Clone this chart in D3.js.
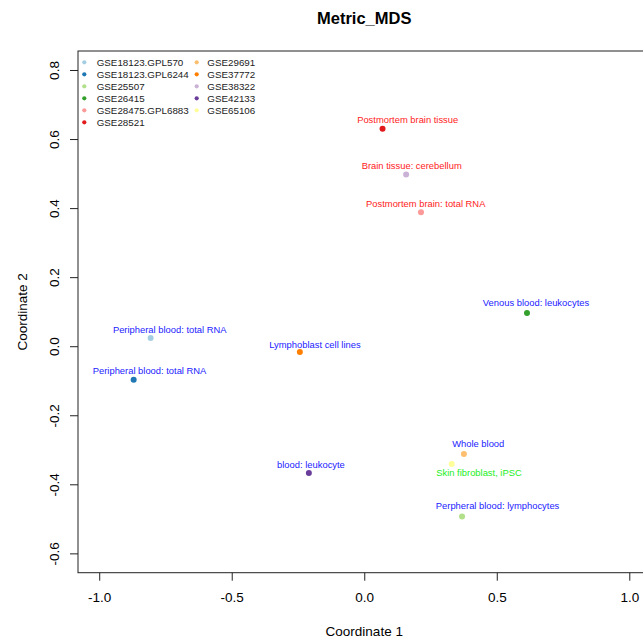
<!DOCTYPE html>
<html>
<head>
<meta charset="utf-8">
<script src="https://cdn.jsdelivr.net/npm/d3@7"></script>
<style>
  html, body { margin: 0; padding: 0; background: #fff; }
  svg { display: block; font-family: "Liberation Sans", Arial, sans-serif; }
</style>
</head>
<body>
<div id="chart"></div>
<script>
// ---- data ----
const datasets = ["GSE18123.GPL570", "GSE18123.GPL6244", "GSE25507", "GSE26415",
  "GSE28475.GPL6883", "GSE28521", "GSE29691", "GSE37772", "GSE38322", "GSE42133", "GSE65106"];
const pointColors = ["#A6CEE3", "#1F78B4", "#B2DF8A", "#33A02C", "#FB9A99", "#E31A1C",
  "#FDBF6F", "#FF7F00", "#CAB2D6", "#6A3D9A", "#FFFF99"];
const coord1 = [-0.806, -0.870, 0.369, 0.614, 0.214, 0.069, 0.376, -0.243, 0.158, -0.209, 0.330];
const coord2 = [0.024, -0.097, -0.493, 0.096, 0.388, 0.630, -0.312, -0.017, 0.497, -0.367, -0.341];
const tissueLabels = ["Peripheral blood: total RNA", "Peripheral blood: total RNA",
  "Perpheral blood: lymphocytes", "Venous blood: leukocytes", "Postmortem brain: total RNA",
  "Postmortem brain tissue", "Whole blood", "Lymphoblast cell lines", "Brain tissue: cerebellum",
  "blood: leukocyte", "Skin fibroblast, iPSC"];
const labelX = [-0.734, -0.810, 0.503, 0.648, 0.232, 0.164, 0.430, -0.186, 0.179, -0.201, 0.433];
const labelY = [0.049, -0.071, -0.463, 0.125, 0.412, 0.655, -0.281, 0.003, 0.523, -0.344, -0.366];
const labelColors = ["#2222ff", "#2222ff", "#2222ff", "#2222ff", "#ff2222", "#ff2222",
  "#2222ff", "#2222ff", "#ff2222", "#2222ff", "#22ee22"];
const xTicks = [-1.0, -0.5, 0.0, 0.5, 1.0];
const yTicks = [-0.6, -0.4, -0.2, 0.0, 0.2, 0.4, 0.6, 0.8];
const xDomain = [-1.08, 1.08];
const yDomain = [-0.656, 0.855];

// ---- layout ----
const W = 643, H = 640;
const plot = { left: 78, right: 650.5, top: 51, bottom: 572.7 };
const fam = '"Liberation Sans", Arial, sans-serif';

const svg = d3.select("#chart").append("svg").attr("width", W).attr("height", H);

const x = d3.scaleLinear().domain(xDomain).range([plot.left, plot.right]);
const y = d3.scaleLinear().domain(yDomain).range([plot.bottom, plot.top]);

// title
svg.append("text").attr("x", x(0)).attr("y", 24).attr("text-anchor", "middle")
  .attr("font-weight", "bold").attr("font-size", 16.5).attr("fill", "#000").text("Metric_MDS");

// box
svg.append("rect").attr("x", plot.left).attr("y", plot.top)
  .attr("width", plot.right - plot.left).attr("height", plot.bottom - plot.top)
  .attr("fill", "none").attr("stroke", "#222").attr("stroke-width", 1);

// x axis
const gx = svg.append("g").attr("transform", `translate(0,${plot.bottom})`)
  .call(d3.axisBottom(x).tickValues(xTicks).tickSize(8).tickPadding(12)
    .tickFormat(d => d.toFixed(1)));
gx.select(".domain").remove();
gx.selectAll("line").attr("stroke", "#222");
gx.selectAll("text").attr("font-size", 13.5).attr("font-family", fam).attr("fill", "#000");

// y axis
const gy = svg.append("g").attr("transform", `translate(${plot.left},0)`)
  .call(d3.axisLeft(y).tickValues(yTicks).tickSize(8).tickFormat(d => d.toFixed(1)));
gy.select(".domain").remove();
gy.selectAll("line").attr("stroke", "#222");
gy.selectAll("text").attr("font-size", 13.5).attr("font-family", fam).attr("fill", "#000")
  .attr("x", null).attr("dy", null).attr("text-anchor", "middle")
  .attr("transform", `translate(${58.5 - plot.left},0) rotate(-90)`);

// axis titles
svg.append("text").attr("x", x(0)).attr("y", 636).attr("text-anchor", "middle")
  .attr("font-size", 13.5).text("Coordinate 1");
svg.append("text").attr("transform", `translate(26.5,${(plot.top + plot.bottom) / 2}) rotate(-90)`)
  .attr("text-anchor", "middle").attr("font-size", 13.5).text("Coordinate 2");

// points
const idx = d3.range(datasets.length);
svg.append("g").selectAll("circle").data(idx).join("circle")
  .attr("cx", i => x(coord1[i])).attr("cy", i => y(coord2[i])).attr("r", 3)
  .attr("fill", i => pointColors[i]);

// labels
svg.append("g").selectAll("text").data(idx).join("text")
  .attr("x", i => x(labelX[i])).attr("y", i => y(labelY[i])).attr("dy", "0.35em")
  .attr("text-anchor", "middle").attr("font-size", 9.4).attr("fill", i => labelColors[i])
  .text(i => tissueLabels[i]);

// legend
const leg = svg.append("g");
idx.forEach(i => {
  const col = i < 6 ? 0 : 1;
  const row = i < 6 ? i : i - 6;
  const cy = 62.3 + row * 12;
  const dx = col === 0 ? 84.3 : 196.7;
  const tx = col === 0 ? 96.7 : 207.3;
  leg.append("circle").attr("cx", dx).attr("cy", cy).attr("r", 2.1).attr("fill", pointColors[i]);
  leg.append("text").attr("x", tx).attr("y", cy).attr("dy", "0.35em")
    .attr("font-size", 9.8).attr("fill", "#222").text(datasets[i]);
});
</script>
</body>
</html>
